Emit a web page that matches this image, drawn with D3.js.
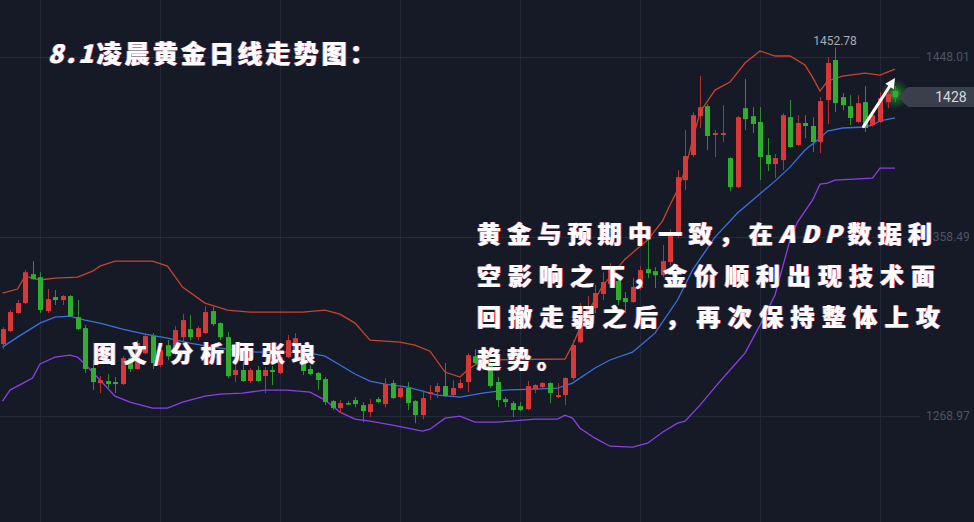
<!DOCTYPE html>
<html><head><meta charset="utf-8">
<script src="https://cdn.jsdelivr.net/npm/d3@7/dist/d3.min.js"></script>
<style>html,body{margin:0;padding:0;background:#161a27;overflow:hidden}</style>
</head><body><svg id="c" width="974" height="522"></svg>
<script>
// ---- DATA ----
// daily candles: [open, high, low, close]
const candles = [
[1304.8,1313.3,1302.3,1312.3],[1311.3,1321.8,1310.8,1320.8],[1320.3,1326.8,1319.8,1325.3],[1325.3,1341.7,1324.8,1340.7],
[1339.7,1346.2,1336.8,1337.2],[1338.2,1340.7,1320.3,1321.8],[1321.3,1332.3,1320.3,1327.3],[1328.3,1331.8,1324.3,1326.8],
[1326.8,1329.3,1324.3,1328.8],[1328.8,1329.3,1318.3,1318.8],[1318.3,1326.8,1311.8,1312.3],[1312.8,1314.3,1290.4,1292.4],
[1292.9,1296.9,1281.9,1285.9],[1285.4,1288.9,1280.4,1286.9],[1286.4,1289.9,1282.9,1284.9],[1285.9,1288.4,1280.4,1284.9],
[1284.9,1298.8,1284.4,1297.8],[1297.8,1299.3,1290.9,1292.4],[1292.4,1306.8,1291.9,1305.3],[1300.3,1310.3,1299.8,1308.8],
[1308.8,1310.3,1292.4,1295.4],[1294.4,1302.8,1293.4,1301.8],[1304.3,1306.8,1296.9,1298.8],[1300.8,1313.8,1299.3,1311.8],
[1308.3,1319.8,1304.3,1316.8],[1312.3,1319.3,1306.8,1308.3],[1308.3,1313.8,1306.8,1312.8],[1310.3,1323.8,1309.8,1320.8],
[1321.3,1323.3,1313.8,1314.8],[1315.3,1315.8,1306.8,1308.3],[1308.3,1310.8,1287.9,1288.9],[1289.4,1295.9,1285.9,1291.9],
[1291.9,1295.9,1285.9,1286.4],[1286.4,1292.9,1285.4,1291.9],[1291.9,1293.9,1285.9,1286.4],[1288.9,1293.4,1280.4,1291.9],
[1291.9,1293.9,1284.4,1290.9],[1290.4,1299.3,1289.9,1298.3],[1298.3,1309.3,1297.8,1306.8],[1300.3,1310.3,1299.8,1307.8],
[1300.8,1301.8,1289.4,1291.4],[1292.4,1294.4,1289.4,1289.9],[1290.4,1290.9,1281.9,1286.9],[1287.4,1288.4,1274.4,1275.9],
[1276.4,1276.9,1271.9,1272.9],[1272.9,1276.9,1270.4,1275.4],[1275.4,1276.4,1274.4,1274.9],[1276.9,1278.4,1273.4,1274.9],
[1274.4,1275.9,1265.9,1271.4],[1270.9,1277.4,1268.4,1274.9],[1277.4,1278.4,1275.4,1275.9],[1274.9,1287.9,1273.4,1284.9],
[1285.4,1286.9,1277.4,1277.9],[1278.4,1284.4,1277.9,1282.9],[1282.9,1285.9,1271.9,1275.4],[1276.4,1276.9,1265.4,1269.4],
[1269.4,1281.9,1267.4,1277.9],[1279.9,1284.4,1276.9,1280.9],[1280.9,1285.4,1277.9,1283.9],[1283.9,1295.4,1278.4,1278.9],
[1279.4,1286.9,1278.9,1282.9],[1282.9,1287.4,1282.4,1285.4],[1285.9,1300.3,1280.9,1299.3],[1298.8,1302.3,1294.9,1295.4],
[1296.4,1297.9,1291.9,1293.9],[1294.4,1295.9,1282.9,1283.9],[1285.9,1288.4,1273.4,1276.9],[1277.4,1278.4,1273.4,1275.9],
[1275.4,1276.4,1268.4,1271.9],[1273.9,1275.9,1271.4,1271.9],[1272.4,1286.4,1271.9,1283.9],[1282.4,1284.9,1280.4,1284.4],
[1283.4,1285.9,1282.9,1285.4],[1285.4,1285.9,1275.4,1280.4],[1278.4,1285.4,1277.9,1279.4],[1279.4,1288.4,1274.4,1287.9],
[1287.9,1306.8,1286.9,1304.3],[1305.8,1325.3,1305.3,1317.8],[1315.8,1328.8,1313.3,1323.8],[1322.8,1334.3,1320.3,1330.3],
[1329.8,1340.7,1326.8,1335.8],[1334.8,1345.2,1332.8,1342.7],[1336.3,1339.3,1324.3,1326.8],[1327.8,1330.8,1320.3,1325.8],
[1325.8,1337.8,1325.3,1333.3],[1332.8,1343.7,1331.8,1341.7],[1342.2,1356.7,1337.7,1340.2],[1341.2,1343.2,1332.8,1339.2],
[1339.2,1354.2,1338.2,1346.2],[1345.7,1362.2,1344.2,1360.2],[1360.2,1391.6,1357.7,1388.1],[1386.6,1411.6,1381.6,1398.6],
[1399.1,1420.5,1398.1,1419.0],[1418.5,1438.5,1412.6,1423.0],[1423.5,1424.5,1401.6,1408.6],[1409.1,1411.6,1398.1,1410.1],
[1409.1,1424.0,1405.6,1410.1],[1397.6,1398.1,1381.1,1383.1],[1383.1,1418.5,1382.6,1418.0],[1422.5,1437.0,1411.6,1417.0],
[1418.5,1423.0,1410.1,1414.6],[1415.6,1423.0,1386.6,1398.1],[1399.1,1407.6,1391.1,1394.6],[1394.6,1399.6,1387.6,1397.6],
[1396.6,1420.0,1391.6,1419.0],[1418.0,1426.5,1402.6,1403.1],[1404.1,1419.0,1403.6,1415.1],[1415.1,1419.0,1407.6,1413.6],
[1413.6,1418.0,1400.6,1405.6],[1405.6,1428.0,1400.1,1426.0],[1426.5,1448.0,1414.6,1445.0],[1446.5,1452.78,1420.5,1425.0],
[1428.0,1430.0,1421.5,1424.0],[1423.5,1429.0,1414.1,1417.6],[1415.6,1429.0,1415.1,1425.0],[1425.5,1433.5,1410.6,1412.6],
[1414.1,1420.5,1413.1,1419.0],[1415.6,1430.5,1415.1,1427.5],[1425.5,1432.5,1422.5,1429.5],[1431.0,1433.5,1425.5,1428.0]
];
// Bollinger bands: [candle index, price]
const upperBand = [[0,1330.3],[2,1332.3],[3,1338.7],[5,1336.8],[7,1337.7],[10,1338.2],[12,1341.2],[13,1343.7],[15,1346.2],
[20,1346.2],[22,1343.7],[24,1333.3],[27,1325.3],[30,1321.8],[33,1320.8],[40,1320.8],[43,1321.8],[45,1319.8],[47,1315.3],
[49,1306.8],[53,1305.8],[55,1304.3],[57,1301.3],[59,1290.9],[61,1288.4],[62,1291.9],[64,1296.9],[75,1297.4],[76,1304.3],
[77,1312.8],[78,1320.3],[80,1333.8],[83,1347.2],[86,1356.7],[88,1366.2],[89,1374.2],[90,1381.6],[91,1391.6],[92,1406.6],
[93,1420.5],[95,1431.5],[97,1435.5],[99,1445.0],[101,1451.0],[103,1448.5],[105,1448.5],[107,1444.0],[108,1438.0],
[109,1431.0],[110,1436.0],[112,1438.5],[115,1440.0],[117,1439.0],[119,1442.0]];
const midBand = [[0,1303.3],[2,1308.3],[5,1315.3],[7,1318.3],[9,1318.8],[11,1316.8],[13,1315.3],[16,1312.3],[19,1309.8],
[22,1307.8],[25,1305.3],[28,1303.3],[31,1301.8],[34,1300.8],[38,1300.8],[41,1300.3],[43,1298.8],[45,1294.4],[47,1289.9],
[49,1286.4],[51,1284.9],[54,1283.4],[58,1279.4],[61,1278.4],[64,1280.4],[67,1281.9],[71,1282.4],[74,1282.9],[76,1285.4],
[79,1292.9],[81,1296.9],[84,1300.8],[87,1310.3],[90,1326.8],[92,1341.7],[95,1358.2],[98,1370.2],[100,1376.6],[103,1386.1],
[105,1393.1],[107,1401.6],[109,1407.6],[110,1411.1],[112,1412.6],[115,1413.1],[116,1414.1],[117,1416.1],[119,1417.6]];
const lowerBand = [[0,1276.4],[1,1281.9],[3,1285.9],[4,1287.9],[5,1294.9],[7,1298.3],[9,1299.3],[10,1298.3],[11,1294.9],
[13,1286.9],[15,1278.9],[17,1275.9],[20,1272.9],[22,1272.9],[24,1275.9],[27,1278.9],[29,1279.9],[32,1280.4],[35,1281.9],
[38,1281.9],[41,1280.9],[43,1276.9],[45,1270.9],[47,1267.4],[49,1266.4],[52,1264.4],[54,1262.9],[56,1261.4],[57,1262.4],
[59,1267.9],[61,1268.9],[63,1265.9],[66,1265.9],[71,1267.4],[74,1267.4],[75,1269.4],[76,1267.9],[77,1262.9],[79,1257.9],
[81,1253.9],[84,1253.4],[86,1255.4],[88,1260.9],[90,1265.4],[91,1266.4],[93,1274.4],[95,1283.4],[97,1291.9],[99,1300.3],
[101,1314.3],[103,1329.3],[105,1356.7],[106,1365.7],[108,1376.6],[109,1384.6],[110,1385.1],[111,1386.6],[116,1387.6],
[117,1392.6],[119,1392.6]];
const priceTicks = [1448.01, 1358.49, 1268.97];
const gridIdx = [5, 21, 37, 53, 69, 85, 101, 117];
const lastPrice = 1428;
// text pieces: [string, italic?]
const titleParts = [["8.1", true], ["凌晨黄金日线走势图：", false]];
const authorParts = [["图文/分析师张琅", false]];
const noteLines = [
  [["黄金与预期中一致，在", false], ["ADP", true], ["数据利", false]],
  [["空影响之下，金价顺利出现技术面", false]],
  [["回撤走弱之后，再次保持整体上攻", false]],
  [["趋势。", false]]
];

// ---- DRAW ----
const W = 974, H = 522;
const svg = d3.select("#c");
svg.append("rect").attr("width", W).attr("height", H).attr("fill", "#161a27");

const x = d3.scaleLinear().domain([0, candles.length - 1]).range([2.5, 895]);
const y = d3.scaleLinear().domain([1268.97, 1448.01]).range([416, 57]);

const defs = svg.append("defs");
const rg = defs.append("radialGradient").attr("id", "glow");
rg.append("stop").attr("offset", "0%").attr("stop-color", "#3cff3c").attr("stop-opacity", 0.75);
rg.append("stop").attr("offset", "45%").attr("stop-color", "#22c022").attr("stop-opacity", 0.35);
rg.append("stop").attr("offset", "100%").attr("stop-color", "#22c022").attr("stop-opacity", 0);

// chromatic fringe filter for the overlay texts
const f = defs.append("filter").attr("id", "fringe").attr("x", "-5%").attr("y", "-30%").attr("width", "110%").attr("height", "160%");
f.append("feFlood").attr("flood-color", "#4d8cff").attr("result", "fb");
f.append("feComposite").attr("in", "fb").attr("in2", "SourceAlpha").attr("operator", "in").attr("result", "b1");
f.append("feOffset").attr("in", "b1").attr("dx", -1.2).attr("dy", 0).attr("result", "blue");
f.append("feFlood").attr("flood-color", "#ff4a3a").attr("result", "fr");
f.append("feComposite").attr("in", "fr").attr("in2", "SourceAlpha").attr("operator", "in").attr("result", "r1");
f.append("feOffset").attr("in", "r1").attr("dx", 1.2).attr("dy", 0).attr("result", "red");
const fm = f.append("feMerge");
fm.append("feMergeNode").attr("in", "blue");
fm.append("feMergeNode").attr("in", "red");
fm.append("feMergeNode").attr("in", "SourceGraphic");

// grid
svg.append("g").selectAll("line").data(gridIdx).join("line")
  .attr("x1", d => x(d)).attr("x2", d => x(d)).attr("y1", 0).attr("y2", H)
  .attr("stroke", "#232837").attr("stroke-width", 1).attr("shape-rendering", "crispEdges");
svg.append("g").selectAll("line").data(priceTicks).join("line")
  .attr("x1", 0).attr("x2", 920).attr("y1", d => Math.round(y(d)) + 0.5).attr("y2", d => Math.round(y(d)) + 0.5)
  .attr("stroke", "#262b3a").attr("stroke-width", 1);

// axis labels
const axis = d3.axisRight(y).tickValues(priceTicks).tickSize(0).tickPadding(0).tickFormat(d3.format(".2f"));
const ag = svg.append("g").attr("transform", "translate(926,0)").call(axis);
ag.select(".domain").remove();
ag.selectAll("text").attr("fill", "#4e5363").attr("font-size", 12).attr("font-family", "Roboto, 'Noto Sans', sans-serif");

// bands
const line = d3.line().x(d => x(d[0])).y(d => y(d[1]));
[[lowerBand, "#8b3fe6"], [upperBand, "#c8442c"], [midBand, "#3c70dc"]].forEach(([data, c]) => {
  svg.append("path").datum(data).attr("d", line).attr("fill", "none").attr("stroke", c).attr("stroke-width", 1.3);
});

// glow behind last candle
const last = candles[candles.length - 1];
svg.append("circle").attr("cx", x(candles.length - 1)).attr("cy", y((last[0] + last[3]) / 2)).attr("r", 15).attr("fill", "url(#glow)");

// candles (red = rise, green = fall)
const up = "#d83838", down = "#2fae2f";
const cg = svg.append("g").selectAll("g").data(candles).join("g");
cg.append("line")
  .attr("x1", (d, i) => Math.round(x(i)) + 0.5).attr("x2", (d, i) => Math.round(x(i)) + 0.5)
  .attr("y1", d => y(d[1])).attr("y2", d => y(d[2]))
  .attr("stroke", d => d[3] >= d[0] ? "#b53030" : "#2a8f2a").attr("stroke-width", 1);
cg.append("rect")
  .attr("x", (d, i) => Math.round(x(i)) - 2).attr("width", 5)
  .attr("y", d => y(Math.max(d[0], d[3])))
  .attr("height", d => Math.max(1.5, Math.abs(y(d[0]) - y(d[3]))))
  .attr("fill", d => d[3] >= d[0] ? up : down);

// max label
const maxI = d3.maxIndex(candles, d => d[1]);
svg.append("text").attr("x", x(maxI)).attr("y", y(candles[maxI][1]) - 2)
  .attr("text-anchor", "middle").attr("fill", "#a9acb5").attr("font-size", 12)
  .attr("font-family", "Roboto, 'Noto Sans', sans-serif").text(d3.format(".2f")(candles[maxI][1]));

// price tag
const ty = y(lastPrice);
svg.append("path")
  .attr("d", `M898,${ty} L908,${ty - 10} L974,${ty - 10} L974,${ty + 10} L908,${ty + 10} Z`)
  .attr("fill", "#3e424f").attr("fill-opacity", 0.92);
svg.append("text").attr("x", 951).attr("y", ty + 5).attr("text-anchor", "middle")
  .attr("fill", "#d6d8de").attr("font-size", 14).attr("font-family", "Roboto, 'Noto Sans', sans-serif").text(lastPrice);

// white arrow
const ax0 = x(115) - 1.5, ay0 = y(1413.3), ax1 = x(119), ay1 = y(1437.5);
const ang = Math.atan2(ay1 - ay0, ax1 - ax0);
const hl = 10, hw = 5;
const bx = ax1 - hl * Math.cos(ang), by = ay1 - hl * Math.sin(ang);
svg.append("line").attr("x1", ax0).attr("y1", ay0).attr("x2", bx).attr("y2", by)
  .attr("stroke", "#ffffff").attr("stroke-width", 3).attr("stroke-linecap", "round");
svg.append("path").attr("d", `M${ax1},${ay1} L${bx + hw * Math.sin(ang)},${by - hw * Math.cos(ang)} L${bx - hw * Math.sin(ang)},${by + hw * Math.cos(ang)} Z`)
  .attr("fill", "#ffffff");

// overlay texts
const FONT = "'Noto Sans CJK SC', 'Noto Sans CJK JP', sans-serif";
function fancyText(parts, tx, ty, size, len) {
  const t = svg.append("text").attr("x", tx).attr("y", ty).attr("fill", "#ffffff")
    .attr("font-family", FONT).attr("font-weight", 900).attr("font-size", size)
    .attr("filter", "url(#fringe)");
  if (len) t.attr("textLength", len).attr("lengthAdjust", "spacing");
  else t.attr("letter-spacing", 6);
  parts.forEach(([s, it]) => t.append("tspan").attr("font-style", it ? "italic" : "normal").text(s));
}
fancyText(titleParts, 48, 63, 25, 327);
fancyText(authorParts, 93, 362, 23, 222);
const lens = [455, 458, 463, null];
noteLines.forEach((parts, k) => fancyText(parts, 477, 243 + k * 41.5, 24, lens[k]));
</script></body></html>
